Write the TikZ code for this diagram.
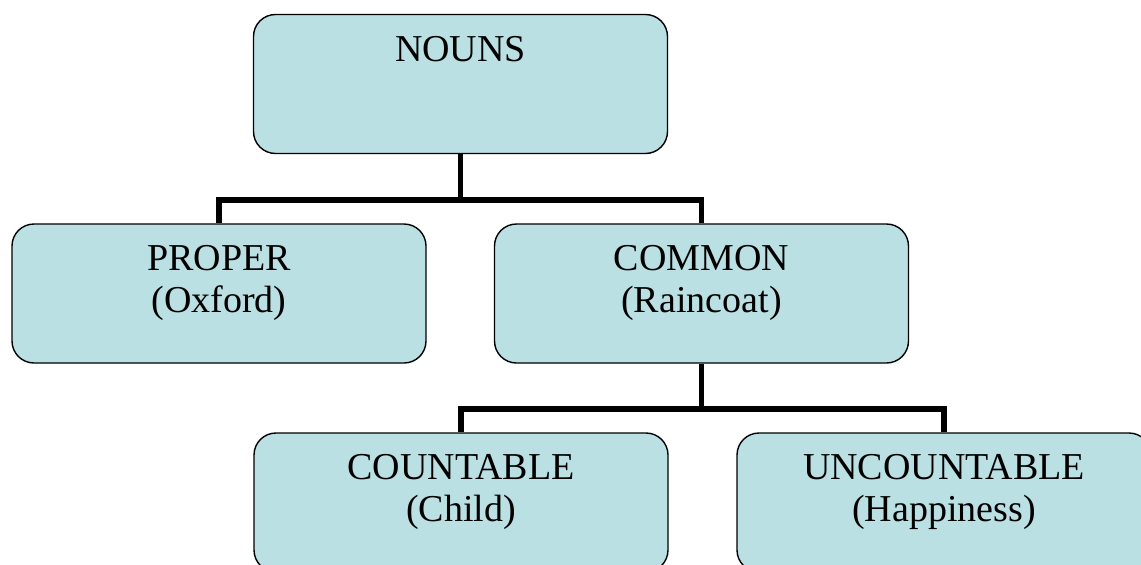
\documentclass[tikz,border=0pt]{standalone}
\usepackage{fontspec}
\setmainfont{Liberation Serif}
\usetikzlibrary{positioning}
\definecolor{boxblue}{RGB}{187,224,227}
\tikzset{
  nounbox/.style={draw=black, line width=1.4pt, fill=boxblue, rounded corners=22pt,
    minimum width=414pt, minimum height=139pt, inner sep=0pt},
  nountext/.style={align=center, inner sep=0pt, font=\fontsize{38}{42}\selectfont},
  link/.style={line width=5.5pt}
}
\begin{document}
\begin{tikzpicture}[x=1pt, y=-1pt]
  \useasboundingbox (0,0) rectangle (1141,565);
  \clip (0,0) rectangle (1141,565);
  % boxes
  \node[nounbox] (nouns) at (460.5,84) {};
  \node[nounbox] (proper) at (219,293.5) {};
  \node[nounbox] (common) at (701.5,293.5) {};
  \node[nounbox] (countable) at (461,502.5) {};
  \node[nounbox] (uncountable) at (944,502.5) {};
  % labels
  \node[nountext, below=22pt of nouns.north] (nounstext) {NOUNS};
  \node[nountext, below=22pt of proper.north] (propertext) {PROPER\\(Oxford)};
  \node[nountext, below=22pt of common.north] (commontext) {COMMON\\(Raincoat)};
  \node[nountext, below=22pt of countable.north] (countabletext) {COUNTABLE\\(Child)};
  \node[nountext, below=22pt of uncountable.north] (uncountabletext) {UNCOUNTABLE\\(Happiness)};
  % connectors
  \coordinate (top split) at (460.5,200);
  \coordinate (low split) at (701.5,409);
  \draw[link] (nouns.south) -- (top split);
  \draw[link] (top split) -| (proper.north);
  \draw[link] (top split) -| (common.north);
  \draw[link] (common.south) -- (low split);
  \draw[link] (low split) -| (countable.north);
  \draw[link] (low split) -| (uncountable.north);
\end{tikzpicture}
\end{document}
